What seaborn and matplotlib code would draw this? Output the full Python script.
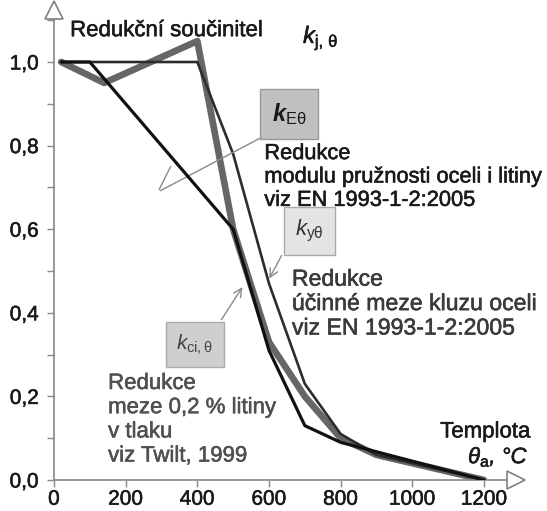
import matplotlib
matplotlib.use("Agg")
import matplotlib.pyplot as plt
import matplotlib.patheffects as pe
from matplotlib.ticker import FuncFormatter, MultipleLocator
import seaborn as sns

# reduction factors
temp_steel = [20, 100, 200, 300, 400, 500, 600, 700, 800, 900, 1000, 1100, 1200]
k_E = [1.0, 1.0, 0.9, 0.8, 0.7, 0.6, 0.31, 0.13, 0.09, 0.0675, 0.045, 0.0225, 0.0]
k_y = [1.0, 1.0, 1.0, 1.0, 1.0, 0.78, 0.47, 0.23, 0.11, 0.06, 0.04, 0.02, 0.0]
temp_ci = [20, 140, 400, 500, 600, 700, 800, 900, 1000, 1100, 1200]
k_ci = [1.0, 0.95, 1.05, 0.6, 0.33, 0.2, 0.1, 0.06, 0.04, 0.02, 0.0]

x_ticks = [0, 200, 400, 600, 800, 1000, 1200]
y_ticks = [0.0, 0.2, 0.4, 0.6, 0.8, 1.0]

sns.set_theme(style="white")
plt.rcParams["font.family"] = ["Liberation Sans", "DejaVu Sans"]
plt.rcParams["mathtext.fontset"] = "custom"
plt.rcParams["mathtext.rm"] = "Liberation Sans"
plt.rcParams["mathtext.it"] = "Liberation Sans:italic"
plt.rcParams["mathtext.bf"] = "Liberation Sans:bold:italic"


def heavy(color):
    # slightly thicker strokes, like the scanned original
    return [pe.withStroke(linewidth=0.4, foreground=color)]


fig = plt.figure(figsize=(5.47, 5.11), dpi=100)
ax = fig.add_axes([0.0987, 0.0607, 0.8451, 0.9194])

# curves
sns.lineplot(x=temp_ci, y=k_ci, ax=ax, color="#666666", lw=4.8, zorder=2)
sns.lineplot(x=temp_steel, y=k_y, ax=ax, color="#2c2c2c", lw=1.9, zorder=3)
sns.lineplot(x=temp_steel, y=k_E, ax=ax, color="#111111", lw=2.3, zorder=4)

ax.set_xlim(0, 1290)
ax.set_ylim(0, 1.124)
ax.set_xticks(x_ticks)
ax.set_yticks(y_ticks)
ax.yaxis.set_minor_locator(MultipleLocator(0.1))
ax.yaxis.set_major_formatter(FuncFormatter(lambda v, p: f"{v:.1f}".replace(".", ",")))
ax.tick_params(axis="both", which="both", direction="out", length=5, width=1,
               color="#888888", labelsize=15, labelcolor="#1a1a1a")
ax.tick_params(axis="y", which="both", left=True, pad=6)
ax.tick_params(axis="x", which="both", bottom=True, pad=2)
for lab in ax.get_xticklabels() + ax.get_yticklabels():
    lab.set_path_effects(heavy("#1a1a1a"))
ax.set_xlabel("")
ax.set_ylabel("")
for s in ["top", "right"]:
    ax.spines[s].set_visible(False)
for s in ["left", "bottom"]:
    ax.spines[s].set_color("#888888")
    ax.spines[s].set_linewidth(1.2)

# hollow axis arrows
ax.plot([0], [1.124], marker="^", ms=13, mfc="white", mec="#777777", mew=1.1,
        clip_on=False, zorder=6)
ax.plot([1290], [0], marker=">", ms=13, mfc="white", mec="#777777", mew=1.1,
        clip_on=False, zorder=6)

# axis titles
ax.text(45, 1.075, "Redukční součinitel", fontsize=16, color="#1a1a1a",
        ha="left", va="center", path_effects=heavy("#1a1a1a"))
ax.text(695, 1.058, r"$k_{\mathrm{j,\,θ}}$", fontsize=17, color="#1a1a1a",
        ha="left", va="center", path_effects=heavy("#1a1a1a"))
ax.text(1330, 0.115, "Templota", fontsize=16, color="#1a1a1a",
        ha="right", va="center", clip_on=False, path_effects=heavy("#1a1a1a"))
ax.text(1325, 0.056, r"$θ_{\mathrm{a}}$, °C", fontsize=16, color="#1a1a1a",
        ha="right", va="center", style="italic", clip_on=False,
        path_effects=heavy("#1a1a1a"))

# labelled boxes
ax.text(656, 0.876, r"$\mathbf{k}_{\mathrm{Eθ}}$", fontsize=17, color="#1a1a1a",
        ha="center", va="center",
        bbox=dict(boxstyle="square,pad=0.5", fc="#c0c0c0", ec="#999999", lw=1))
ax.text(712, 0.596, r"$k_{\mathrm{yθ}}$", fontsize=16, color="#333333",
        ha="center", va="center",
        bbox=dict(boxstyle="square,pad=0.5", fc="#e4e4e4", ec="#aaaaaa", lw=1))
ax.text(393, 0.323, r"$k_{\mathrm{ci,θ}}$", fontsize=15, color="#444444",
        ha="center", va="center",
        bbox=dict(boxstyle="square,pad=0.5", fc="#cfcfcf", ec="#aaaaaa", lw=1))

# descriptions
ax.text(587, 0.806, "Redukce\nmodulu pružnosti oceli i litiny\nviz EN 1993-1-2:2005",
        fontsize=15.7, color="#1a1a1a", ha="left", va="top", linespacing=1.15,
        clip_on=False, path_effects=heavy("#1a1a1a"))
ax.text(664, 0.508, "Redukce\núčinné meze kluzu oceli\nviz EN 1993-1-2:2005",
        fontsize=16.6, color="#3a3a3a", ha="left", va="top", linespacing=1.08,
        clip_on=False, path_effects=heavy("#3a3a3a"))
ax.text(151, 0.256, "Redukce\nmeze 0,2 % litiny\nv tlaku\nviz Twilt, 1999",
        fontsize=16, color="#505050", ha="left", va="top", linespacing=1.2,
        path_effects=heavy("#505050"))

# pointer lines
line_kw = dict(color="#8a8a8a", lw=1)
ax.annotate("", xy=(290, 0.689), xytext=(580, 0.82),
            arrowprops=dict(arrowstyle="-", **line_kw))
ax.annotate("", xy=(290, 0.689), xytext=(329, 0.756),
            arrowprops=dict(arrowstyle="-", **line_kw))
ax.annotate("", xy=(597, 0.476), xytext=(639, 0.543),
            arrowprops=dict(arrowstyle="->,head_length=0.5,head_width=0.25", **line_kw))
ax.annotate("", xy=(530, 0.467), xytext=(463, 0.378),
            arrowprops=dict(arrowstyle="->,head_length=0.5,head_width=0.25", **line_kw))

fig.savefig("out.png", dpi=100)
